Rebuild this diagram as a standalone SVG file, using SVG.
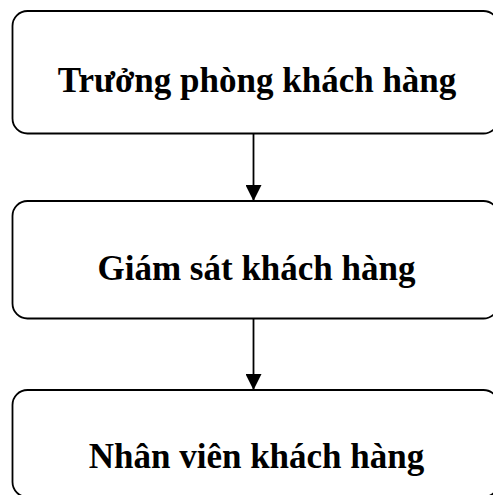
<svg xmlns="http://www.w3.org/2000/svg" width="493" height="495" viewBox="0 0 493 495">
<defs>
<style>
.box{fill:#fff;stroke:#000;stroke-width:1.8}
.lbl{font-family:"Liberation Serif","Times New Roman",serif;font-weight:bold;font-size:35px;fill:#000;text-anchor:middle}
.conn{stroke:#000;stroke-width:1.8;fill:none}
</style>
<marker id="arr" markerUnits="userSpaceOnUse" markerWidth="16" markerHeight="16" refX="16" refY="8" orient="auto">
<path d="M0,0 L16,8 L0,16 Z" fill="#000"/>
</marker>
</defs>
<rect width="493" height="495" fill="#fff"/>
<g id="node1">
<rect class="box" x="12.5" y="11" width="486" height="122.5" rx="15" ry="15"/>
<text class="lbl" x="257" y="91.5">Trưởng phòng khách hàng</text>
</g>
<g id="node2">
<rect class="box" x="12.5" y="201" width="486" height="117.5" rx="15" ry="15"/>
<text class="lbl" x="256.5" y="280">Giám sát khách hàng</text>
</g>
<g id="node3">
<rect class="box" x="12.5" y="390" width="486" height="107" rx="15" ry="15"/>
<text class="lbl" x="256.5" y="468">Nhân viên khách hàng</text>
</g>
<g id="connectors">
<line class="conn" x1="253.5" y1="133.5" x2="253.5" y2="201" marker-end="url(#arr)"/>
<line class="conn" x1="253.5" y1="318.5" x2="253.5" y2="390" marker-end="url(#arr)"/>
</g>
</svg>
